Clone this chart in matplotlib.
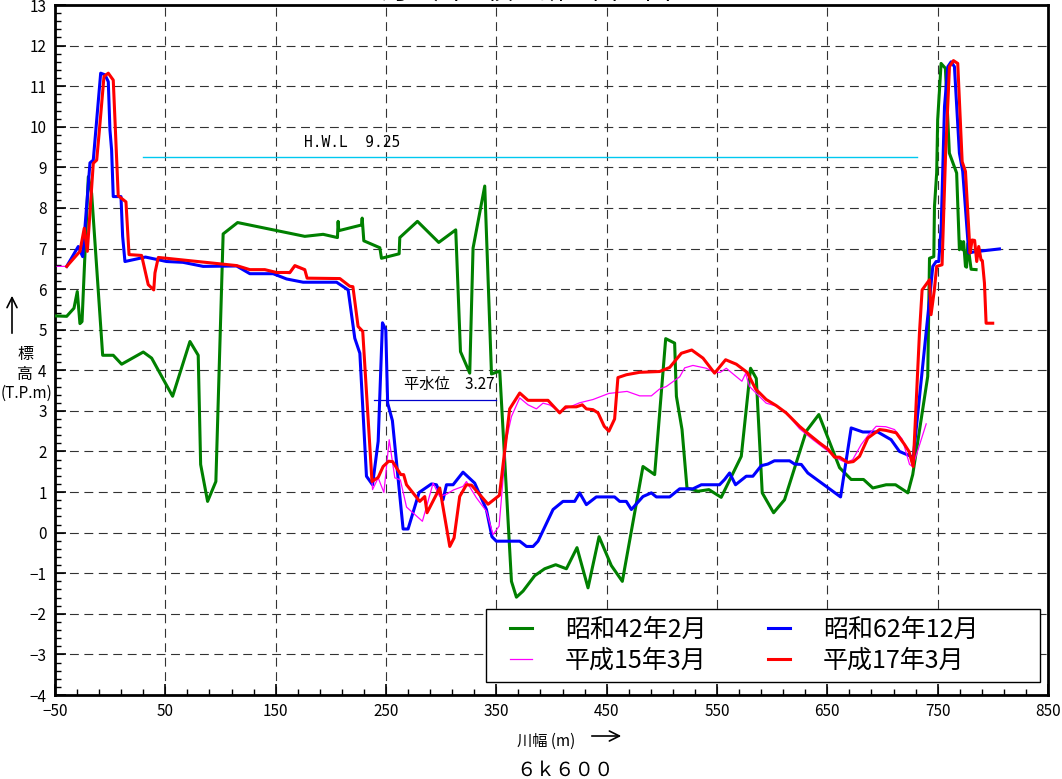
import matplotlib
matplotlib.use('Agg')
import matplotlib.pyplot as plt
from matplotlib.patches import Rectangle
from matplotlib.ticker import MultipleLocator

plt.rcParams['font.family'] = ['Noto Sans CJK JP', 'DejaVu Sans']

# 昭和42年2月
x_s42 = [-50, -39.4, -32.8, -29.8, -27.4, -25.5, -19.8, -16.8, -6.8, 2.8, 10.4, 30, 37.6, 56.6,
         72.3, 79.8, 82, 88.3, 95.8, 102.4, 115.5, 176.4, 193, 206, 206.6, 207.2, 227.8, 228.4,
         229.9, 244.4, 245.9, 261.9, 262.5, 278.5, 297.8, 313.2, 317.5, 325.9, 328.9, 339.5,
         345.6, 353.1, 363.7, 368.2, 374.2, 384.8, 393.8, 403.8, 413.5, 423.1, 433.1, 443.1,
         454.2, 464.2, 482.9, 493.5, 503.5, 511.6, 513.2, 518.3, 522.8, 532.8, 542.7, 553.8,
         572, 580.4, 585.6, 591, 601.3, 611.2, 630.9, 642.3, 661.1, 671.6, 682.8, 691.2, 703.3,
         711.8, 723, 727.4, 741, 742.6, 746.5, 747.1, 749.1, 750, 753.1, 757, 760.6, 767.2,
         769.7, 771.2, 772.5, 773.5, 775.2, 776.2, 777.3, 780.3, 784.8]
y_s42 = [5.34, 5.33, 5.53, 5.94, 5.15, 5.2, 8.77, 8.36, 4.37, 4.37, 4.15, 4.45, 4.3, 3.36,
         4.71, 4.37, 1.68, 0.77, 1.26, 7.36, 7.64, 7.3, 7.35, 7.27, 7.67, 7.44, 7.58, 7.75,
         7.19, 7.02, 6.76, 6.87, 7.27, 7.67, 7.15, 7.46, 4.46, 3.93, 7.01, 8.54,
         3.91, 3.98, -1.2, -1.59, -1.44, -1.06, -0.89, -0.79, -0.89, -0.37, -1.36, -0.1,
         -0.81, -1.2, 1.63, 1.43, 4.78, 4.67, 3.36, 2.54, 1.1, 1.02, 1.06, 0.87,
         1.88, 4.05, 3.8, 0.98, 0.49, 0.81, 2.5, 2.91, 1.6, 1.31, 1.31, 1.1, 1.18,
         1.18, 0.98, 1.43, 3.85, 6.76, 6.8, 8.03, 8.86, 10.17, 11.56, 11.44, 9.35, 8.86,
         6.97, 7.17, 6.97, 7.17, 6.56, 6.54, 7.12, 6.49, 6.48]

# 昭和62年12月
x_s62 = [-39.4, -28.9, -24.9, -22.8, -18.3, -15.3, -8.6, -4.7, -1.7, -0.2, 1.3, 2.8, 9.8, 11.3,
         13.4, 32, 51.1, 66, 84.3, 114.6, 126.6, 147.7, 159.9, 174.9, 205.2, 215.7, 221.7,
         226.3, 232.3, 237.8, 242.9, 246.8, 249.8, 251.5, 255.8, 265.5, 270, 280, 291.2, 295.7,
         301.7, 304.8, 310.8, 319.8, 330.4, 341, 346, 350, 371.2, 377.3, 383.3, 387.8, 401.4,
         410.4, 421, 425.5, 431.6, 440.6, 457.2, 461.8, 467.8, 472.4, 482.9, 490.5, 495, 507.1,
         516.2, 528.2, 535.8, 552.3, 556.9, 561.4, 566.8, 576.5, 582.5, 590.1, 596.1, 602,
         615.8, 620.3, 626.4, 632.3, 662, 671.6, 682.2, 695.7, 707.8, 715.4, 725.9, 727.4,
         742.6, 745.6, 748.6, 751, 753.2, 756.2, 759.2, 762.2, 765.2, 769.7, 772.7, 778.2,
         783.3, 806]
y_s62 = [6.56, 7.05, 6.8, 7.54, 9.11, 9.18, 11.32, 11.28, 11.11, 9.92, 9.43, 8.28, 8.28, 7.3,
         6.68, 6.79, 6.68, 6.66, 6.56, 6.57, 6.38, 6.38, 6.25, 6.17, 6.17, 5.98, 4.79,
         4.42, 1.39, 1.18, 2.25, 5.17, 5.0, 3.19, 2.76, 0.09, 0.09, 0.99, 1.2, 1.18,
         0.81, 1.18, 1.18, 1.49, 1.22, 0.57, -0.1, -0.21, -0.21, -0.34, -0.34, -0.21, 0.57,
         0.77, 0.77, 0.98, 0.69, 0.88, 0.88, 0.77, 0.77, 0.57, 0.89, 0.98, 0.88, 0.88,
         1.08, 1.08, 1.18, 1.18, 1.31, 1.47, 1.18, 1.39, 1.39, 1.65, 1.69, 1.77,
         1.77, 1.69, 1.68, 1.47, 0.88, 2.58, 2.48, 2.48, 2.29, 2.0, 1.88, 1.72,
         5.74, 6.56, 6.68, 6.68, 7.54, 10.5, 11.48, 11.6, 11.48, 9.35, 8.9, 6.89,
         6.92, 6.99]

# 平成15年3月
x_h15 = [-48, -39.4, -27.4, -23.5, -20.7, -15.3, -12.2, -9.2, -5.6, -1.7, 2.8, 7.3, 14.3, 17.1,
         28.5, 34.5, 39.5, 40.6, 43.6, 51.1, 114.6, 126.6, 140.2, 150.8, 162.9, 167.4, 176.4,
         178.5, 208.2, 217.2, 220, 224.7, 228.9, 237.8, 242.9, 248.1, 252.9, 258, 263, 268.6,
         283, 292.7, 298.7, 305, 311, 319.8, 322.9, 331.9, 341, 347, 352.5, 359.1, 363.7, 371.2,
         378.7, 386.3, 392.3, 398, 407.4, 425.5, 437.6, 452, 468.5, 479.9, 490.5, 498, 504,
         516.2, 520.7, 528.2, 540.3, 547.8, 553, 558.4, 565, 572.6, 575.9, 579.5, 585, 594.6,
         603.7, 612.7, 624.8, 636.9, 649, 658.1, 667.1, 673, 680.7, 687, 694.3, 703, 710.9,
         718, 724.5, 727.4, 739.6]
y_h15 = [6.56, 6.56, 6.93, 7.5, 6.93, 9.1, 9.18, 10.09, 11.24, 11.32, 11.15, 8.3, 8.15, 6.85,
         6.83, 6.11, 5.98, 6.4, 6.78, 6.76, 6.58, 6.48, 6.48, 6.41, 6.38, 6.55, 6.46,
         6.27, 6.26, 6.07, 6.06, 5.08, 4.96, 1.06, 1.35, 0.99, 2.29, 1.35, 1.3, 0.63,
         0.28, 1.22, 0.89, 0.95, 1.05, 1.14, 1.26, 0.86, 0.53, -0.05, 0.16, 2.29, 2.86, 3.32,
         3.15, 3.05, 3.19, 3.15, 2.99, 3.2, 3.28, 3.43, 3.48, 3.37, 3.37, 3.54, 3.6,
         3.84, 4.06, 4.12, 4.05, 3.95, 3.95, 4.05, 3.9, 3.73, 3.92, 3.6, 3.45, 3.19,
         3.12, 2.95, 2.56, 2.29, 2.04, 1.84, 1.72, 1.8, 2.17, 2.4, 2.62, 2.61, 2.54,
         2.3, 1.68, 1.63, 2.68]

# 平成17年3月
x_h17 = [-39.4, -27.4, -23.5, -20.7, -15.3, -12.2, -9.2, -5.6, -1.7, 2.8, 7.3, 14.3, 17.1,
         28.5, 34.5, 39.5, 40.6, 43.6, 51.1, 114.6, 126.6, 140.2, 150.8, 162.9, 167.4, 176.4,
         178.5, 208.2, 217.2, 220, 224.7, 228.9, 237.3, 242.9, 247.4, 252.4, 256, 263.4, 266,
         268.6, 280.6, 285.1, 287.2, 298.7, 307.8, 311.7, 316.8, 322.9, 327.5, 342.5, 352.8,
         362.1, 371.2, 378.7, 396.8, 407.4, 412.9, 422.5, 427.9, 431.6, 437.6, 442.2, 447.8,
         452, 457.2, 460.2, 467.8, 479.9, 498, 507.1, 517.7, 527.1, 537.3, 547.8, 557.8,
         567.5, 577.3, 585, 594.6, 603.7, 612.7, 624.8, 633.9, 643, 650.5, 656.5, 661,
         668.6, 673.5, 679.2, 686.7, 697.3, 703, 712.4, 720, 724, 727.8, 733.5, 735.9,
         742.6, 744, 747, 749.1, 754, 757.1, 760.7, 764.3, 768.2, 772.2, 775.2, 779.4,
         781.2, 783.5, 785.4, 787.2, 789.3, 790.5, 792.4, 793.9, 799.9]
y_h17 = [6.56, 6.93, 7.5, 6.93, 9.1, 9.18, 10.09, 11.24, 11.32, 11.15, 8.3, 8.15, 6.85,
         6.83, 6.11, 5.98, 6.4, 6.78, 6.76, 6.58, 6.48, 6.48, 6.41, 6.41, 6.58, 6.48,
         6.27, 6.26, 6.07, 6.06, 5.08, 4.96, 1.26, 1.36, 1.63, 1.76, 1.75, 1.43, 1.43,
         1.18, 0.77, 0.89, 0.49, 1.1, -0.34, -0.13, 0.89, 1.18, 1.17, 0.7, 0.92,
         3.05, 3.44, 3.26, 3.26, 2.95, 3.1, 3.1, 3.15, 3.05, 3.03, 2.95, 2.62,
         2.5, 2.8, 3.82, 3.89, 3.95, 3.97, 4.07, 4.42, 4.5, 4.3, 3.93, 4.26,
         4.15, 3.95, 3.54, 3.28, 3.13, 2.95, 2.62, 2.41, 2.21, 2.06, 1.86, 1.86,
         1.73, 1.75, 1.88, 2.33, 2.54, 2.52, 2.46, 2.17, 2.0, 1.63, 4.92, 5.98,
         6.23, 5.37, 5.98, 6.56, 6.6, 9.27, 11.48, 11.63, 11.56, 9.14, 8.9, 6.89,
         7.21, 7.2, 6.68, 7.05, 6.72, 6.7, 6.15, 5.16, 5.16]

hwl = 9.25
hwl_range = [30, 731]
normal_wl = 3.27
normal_wl_range = [239, 350]

fig = plt.figure(figsize=(10.62, 7.79), dpi=100)
ax = fig.add_axes([55 / 1062, 1 - 695 / 779, 993 / 1062, 690 / 779])

ax.plot(x_s42, y_s42, color='#008000', lw=2.2, label='昭和42年2月', zorder=3)
ax.plot(x_s62, y_s62, color='#0000ff', lw=2.2, label='昭和62年12月', zorder=4)
ax.plot(x_h15, y_h15, color='#ff00ff', lw=0.9, label='平成15年3月', zorder=5)
ax.plot(x_h17, y_h17, color='#ff0000', lw=2.2, label='平成17年3月', zorder=6)

ax.plot(hwl_range, [hwl, hwl], color='#00c8f0', lw=1.0, zorder=2)
ax.text(176, hwl + 0.17, 'H.W.L  %.2f' % hwl, family='DejaVu Sans Mono', fontsize=10.5,
        va='bottom', ha='left')
ax.plot(normal_wl_range, [normal_wl, normal_wl], color='#0000cc', lw=0.9, zorder=2)
ax.text(266, normal_wl + 0.17, '平水位　%.2f' % normal_wl, fontsize=11, va='bottom', ha='left')

ax.set_xlim(-50, 850)
ax.set_ylim(-4, 13)
ax.xaxis.set_minor_locator(MultipleLocator(20, offset=10))
ax.yaxis.set_major_locator(MultipleLocator(1))
ax.yaxis.set_minor_locator(MultipleLocator(0.2))
ax.set_xticks(range(-50, 851, 100))
ax.tick_params(which='both', direction='in', top=False, right=False, labelsize=11)
ax.tick_params(which='major', length=8, width=1.2, pad=6)
ax.tick_params(which='minor', length=4, width=1.0)
ax.grid(True, which='major', color='#333333', lw=0.8, linestyle=(0, (8, 5)), zorder=1)
for s in ax.spines.values():
    s.set_linewidth(2)

# legend box drawn separately so the entries can sit inside it freely
ax.add_patch(Rectangle((0.434, 0.019), 0.558, 0.1058, transform=ax.transAxes,
                       facecolor='white', edgecolor='black', lw=1.0, zorder=7))
leg = ax.legend(handles=[ax.lines[0], ax.lines[2], ax.lines[1], ax.lines[3]],
                ncol=2, loc='center left', bbox_to_anchor=(0.4582, 0.0717),
                borderaxespad=0, borderpad=0, fontsize=18, handlelength=0.9,
                handletextpad=1.3, columnspacing=2.45, labelspacing=0.2, frameon=False)
leg.set_zorder(8)

# captions outside the axes
fig.text(0.495, 0.9933, '河　川　横　断　面　図', fontsize=19, ha='center', va='bottom')
ax.annotate('', xy=(12 / 1062, 1 - 293 / 779), xytext=(12 / 1062, 1 - 336 / 779),
            xycoords='figure fraction',
            arrowprops=dict(arrowstyle='->', lw=1.2, color='black', mutation_scale=18))
fig.text(25 / 1062, 1 - 355 / 779, '標', fontsize=11.5, ha='center', va='center')
fig.text(25 / 1062, 1 - 374 / 779, '高', fontsize=11.5, ha='center', va='center')
fig.text(26 / 1062, 1 - 393 / 779, '(T.P.m)', fontsize=11, ha='center', va='center')
fig.text(546 / 1062, 1 - 741 / 779, '川幅 (m)', fontsize=11, ha='center', va='center')
ax.annotate('', xy=(624 / 1062, 1 - 736 / 779), xytext=(589 / 1062, 1 - 736 / 779),
            xycoords='figure fraction',
            arrowprops=dict(arrowstyle='->', lw=1.2, color='black', mutation_scale=18))
fig.text(565 / 1062, 1 - 770 / 779, '６ｋ６００', fontsize=14, ha='center', va='center')

fig.savefig('out.png', dpi=100)
